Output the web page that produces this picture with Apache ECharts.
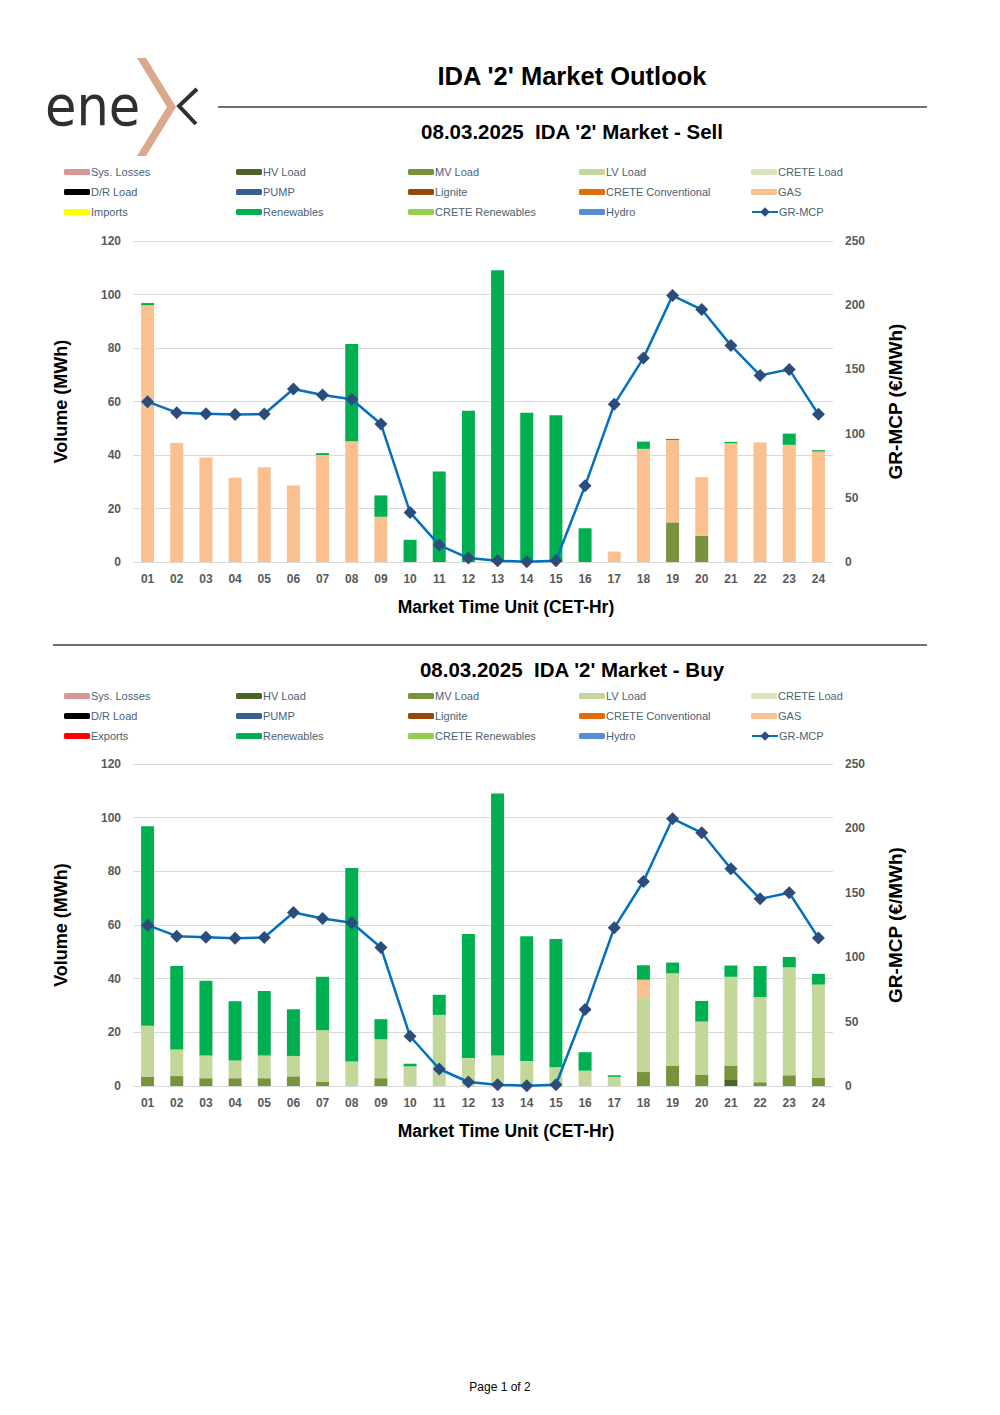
<!DOCTYPE html>
<html>
<head>
<meta charset="utf-8">
<script src="https://cdn.jsdelivr.net/npm/echarts@6/dist/echarts.min.js"></script>
<style>
html,body{margin:0;padding:0;background:#fff;}
#main{width:1000px;height:1415px;}
</style>
</head>
<body>
<div id="main"></div>
<script>
// ---------- DATA ----------
const hours = ['01','02','03','04','05','06','07','08','09','10','11','12','13','14','15','16','17','18','19','20','21','22','23','24'];
const zeros = [0,0,0,0,0,0,0,0,0,0,0,0,0,0,0,0,0,0,0,0,0,0,0,0];

// Sell side (MWh)
const sellMV    = [0,0,0,0,0,0,0,0,0,0,0,0,0,0,0,0,0,0,14.8,9.8,0,0,0,0];
const sellGas   = [96.0,44.5,39.1,31.5,35.4,28.6,40.0,45.1,16.9,0,0,0,0,0,0,0,3.9,42.3,30.8,21.9,44.4,44.7,43.8,41.3];
const sellRenew = [0.8,0,0,0,0,0,0.7,36.4,8.0,8.3,33.8,56.5,109.1,55.8,54.9,12.6,0,2.7,0.4,0,0.5,0,4.2,0.5];

// Buy side (MWh)
const buyHV    = [0,0,0,0,0,0,0,0,0,0,0,0,0,0,0,0,0,0,0,0,2.5,0,0,0];
const buyMV    = [3.5,3.7,2.9,2.9,2.9,3.6,1.5,0,2.9,0,0,0,0,0,0,0,0,5.2,7.5,4.1,5.0,1.4,4.0,3.0];
const buyLV    = [19.0,9.9,8.5,6.6,8.5,7.6,19.3,9.1,14.5,7.3,26.5,10.4,11.4,9.3,7.0,5.7,3.4,27.6,34.5,19.9,33.2,31.7,40.2,34.8];
const buyGas   = [0,0,0,0,0,0,0,0,0,0,0,0,0,0,0,0,0,6.8,0,0,0,0,0,0];
const buyRenew = [74.3,31.1,27.8,22.1,24.0,17.4,19.9,72.1,7.5,1.0,7.5,46.2,97.6,46.5,47.8,6.9,0.6,5.4,4.0,7.7,4.2,11.6,3.9,4.0];

// GR-MCP (€/MWh)
const mcp = [124.9,116.3,115.5,114.8,115.3,134.7,130.1,126.7,107.5,38.6,13.2,3.1,1.0,0.2,1.0,59.3,122.8,158.8,207.5,196.6,168.7,145.3,150.0,115.0];

const volTicks = {min:0, max:120, interval:20};
const priceTicks = {min:0, max:250, interval:50};

// ---------- STYLE ----------
const FONT = 'Liberation Sans';
const colors = {
  'Sys. Losses':'#da9694','HV Load':'#4f6228','MV Load':'#77933c','LV Load':'#c4d79b','CRETE Load':'#d8e4bc',
  'D/R Load':'#000000','PUMP':'#366092','Lignite':'#974706','CRETE Conventional':'#e26b0a','GAS':'#fac090',
  'Imports':'#ffff00','Exports':'#ff0000','Renewables':'#00b050','CRETE Renewables':'#92d050','Hydro':'#558ed5'
};

function stackSeries(order, dataMap, idx, stackName){
  return order.map(n => ({
    name:n, type:'bar', stack:stackName, xAxisIndex:idx, yAxisIndex:idx*2,
    barWidth:13, itemStyle:{color:colors[n]}, data:(dataMap[n]||zeros),
    emphasis:{disabled:true}
  }));
}
const sellOrder = ['Sys. Losses','HV Load','MV Load','LV Load','CRETE Load','D/R Load','PUMP','Lignite','CRETE Conventional','GAS','Imports','Renewables','CRETE Renewables','Hydro'];
const buyOrder  = ['Sys. Losses','HV Load','MV Load','LV Load','CRETE Load','D/R Load','PUMP','Lignite','CRETE Conventional','GAS','Exports','Renewables','CRETE Renewables','Hydro'];

const sellMap = {'MV Load':sellMV,'GAS':sellGas,'Renewables':sellRenew};
const buyMap  = {'HV Load':buyHV,'MV Load':buyMV,'LV Load':buyLV,'GAS':buyGas,'Renewables':buyRenew};

function mcpSeries(idx){
  return {name:'GR-MCP', type:'line', xAxisIndex:idx, yAxisIndex:idx*2+1, data:mcp,
    symbol:'diamond', symbolSize:13, lineStyle:{color:'#0070c0', width:2.5},
    itemStyle:{color:'#2c4d7b'}, z:5, emphasis:{disabled:true}};
}

const grids = [
  {left:133, right:167, top:241, height:321},
  {left:133, right:167, top:764, height:322}
];

function xAxis(idx){
  return {type:'category', gridIndex:idx, data:hours,
    axisLine:{show:false}, axisTick:{show:false},
    axisLabel:{color:'#595959', fontFamily:FONT, fontSize:12, fontWeight:'bold', margin:11},
    name:'Market Time Unit (CET-Hr)', nameLocation:'middle', nameGap:36,
    nameTextStyle:{color:'#000', fontFamily:FONT, fontSize:17.5, fontWeight:'bold', padding:[0,0,0,46]}};
}
function yAxes(idx){
  return [
    {type:'value', gridIndex:idx, position:'left', min:volTicks.min, max:volTicks.max, interval:volTicks.interval,
      axisLine:{show:false}, axisTick:{show:false},
      splitLine:{lineStyle:{color:'#d9d9d9', width:1}},
      axisLabel:{color:'#595959', fontFamily:FONT, fontSize:12, fontWeight:'bold', margin:12},
      name:'Volume (MWh)', nameLocation:'middle', nameGap:63,
      nameTextStyle:{color:'#000', fontFamily:FONT, fontSize:18, fontWeight:'bold'}},
    {type:'value', gridIndex:idx, position:'right', min:priceTicks.min, max:priceTicks.max, interval:priceTicks.interval,
      axisLine:{show:false}, axisTick:{show:false}, splitLine:{show:false},
      axisLabel:{color:'#595959', fontFamily:FONT, fontSize:12, fontWeight:'bold', margin:12},
      name:'GR-MCP (€/MWh)', nameLocation:'middle', nameGap:53, nameRotate:90,
      nameTextStyle:{color:'#000', fontFamily:FONT, fontSize:19, fontWeight:'bold'}}
  ];
}

function legends(top, third){
  const cols = [
    ['Sys. Losses','D/R Load',third],
    ['HV Load','PUMP','Renewables'],
    ['MV Load','Lignite','CRETE Renewables'],
    ['LV Load','CRETE Conventional','Hydro'],
    ['CRETE Load','GAS']
  ];
  const xs = [64,236,408,579,751];
  const base = {orient:'vertical', itemWidth:26, itemHeight:6, itemGap:6, padding:0, selectedMode:false,
    textStyle:{color:'#4a6274', fontFamily:FONT, fontSize:11, lineHeight:14, padding:[0,0,0,-4]}};
  const list = cols.map((c,i)=>Object.assign({}, base, {left:xs[i], top:top, data:c}));
  list.push(Object.assign({}, base, {left:751, top:top+40, data:['GR-MCP'], itemHeight:12}));
  return list;
}

const option = {
  animation:false,
  textStyle:{fontFamily:FONT},
  grid:grids,
  xAxis:[xAxis(0), xAxis(1)],
  yAxis:[...yAxes(0), ...yAxes(1)],
  legend:[...legends(165,'Imports'), ...legends(689,'Exports')],
  series:[
    ...stackSeries(sellOrder, sellMap, 0, 'sell'),
    mcpSeries(0),
    ...stackSeries(buyOrder, buyMap, 1, 'buy'),
    mcpSeries(1)
  ],
  graphic:[
    // logo
    {type:'polygon', shape:{points:[[137,58],[146,58],[176,107],[146,156],[137,156],[167,107]]}, style:{fill:'#dba78d'}},
    {type:'polyline', shape:{points:[[197,89],[179,106],[196,124]]}, style:{stroke:'#2f2f2f', lineWidth:4, fill:null}},
    {type:'text', x:45, y:106, scaleX:0.93, style:{text:'ene', fill:'#2f2f2f', font:'55px "DejaVu Sans"', textVerticalAlign:'middle'}},
    // titles
    {type:'text', x:572, y:76, style:{text:"IDA '2' Market Outlook", fill:'#000', font:'bold 25.5px "Liberation Sans"', textAlign:'center', textVerticalAlign:'middle'}},
    {type:'line', shape:{x1:218,y1:107,x2:927,y2:107}, style:{stroke:'#404040', lineWidth:1.5}},
    {type:'text', x:572, y:131, style:{text:"08.03.2025\u00a0 IDA '2' Market - Sell", fill:'#000', font:'bold 20.5px "Liberation Sans"', textAlign:'center', textVerticalAlign:'middle'}},
    {type:'line', shape:{x1:53,y1:645,x2:927,y2:645}, style:{stroke:'#404040', lineWidth:1.5}},
    {type:'text', x:572, y:669, style:{text:"08.03.2025\u00a0 IDA '2' Market - Buy", fill:'#000', font:'bold 20.5px "Liberation Sans"', textAlign:'center', textVerticalAlign:'middle'}},
    {type:'text', x:500, y:1387, style:{text:'Page 1 of 2', fill:'#000', font:'12px "Liberation Sans"', textAlign:'center', textVerticalAlign:'middle'}}
  ]
};

const chart = echarts.init(document.getElementById('main'), null, {renderer:'svg', width:1000, height:1415});
chart.setOption(option);
</script>
</body>
</html>
